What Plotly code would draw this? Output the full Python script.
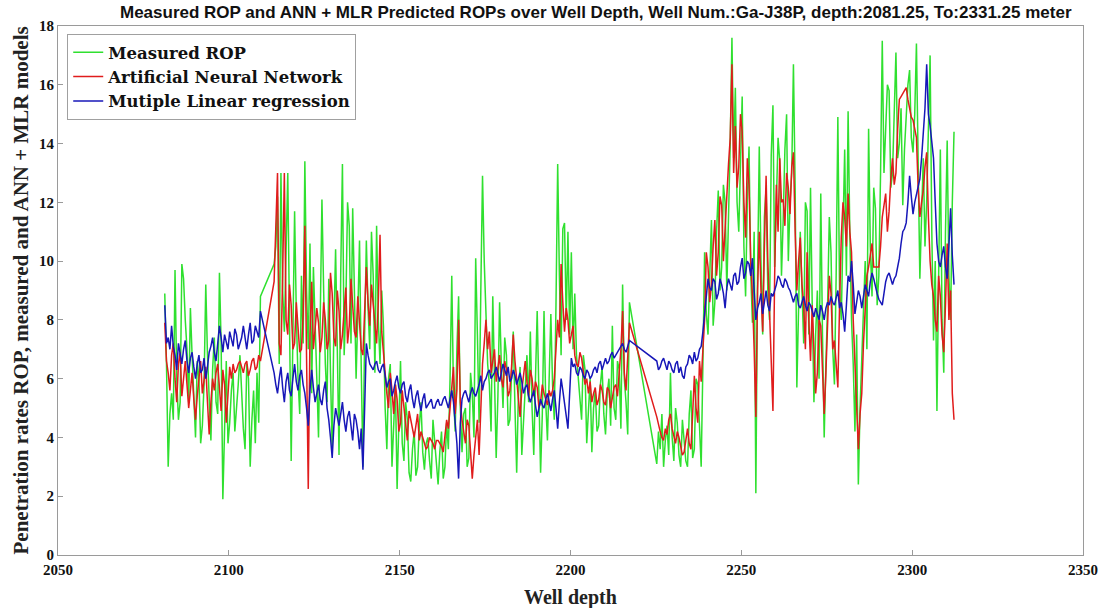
import numpy as np
import plotly.graph_objects as go

# Depth sampling: three continuous logged intervals (0.5 m steps), with gaps in between
DEPTH_SEGMENTS = [(2081.25, 2109.25), (2113.25, 2217.25), (2225.25, 2312.25)]
STEP = 0.5

# ---- Measured ROP (green) ----
MEASURED_1 = [8.9, 6.5, 3.0, 4.8, 5.5, 4.6, 9.7, 6.0, 4.6, 5.2, 9.9, 9.4, 8.0, 7.0, 5.2, 8.4, 6.8, 5.4, 4.0, 6.6,
              6.0, 3.8, 4.4, 5.8, 9.2, 6.8, 5.0, 3.9, 6.3, 7.4, 5.2, 4.8, 9.6, 7.2, 1.9, 4.6, 6.6, 3.8, 4.5, 5.6,
              6.2, 4.2, 4.9, 5.8, 6.8, 5.2, 4.3, 3.6, 6.5, 6.0, 3.0, 4.6, 5.6, 3.8, 6.2, 4.5, 8.8]
MEASURED_2 = [9.9, 10.5, 12.2, 6.5, 13.0, 9.0, 7.6, 10.2, 13.0, 8.0,
              3.2, 7.5, 11.7, 8.2, 6.0, 4.8, 9.5, 7.2, 13.4, 9.0,
              7.0, 10.6, 5.5, 9.8, 8.2, 6.0, 4.0, 8.5, 12.1, 9.0,
              6.5, 5.2, 9.4, 6.2, 3.6, 7.8, 10.4, 7.0, 3.4, 9.6,
              13.3, 6.8, 8.5, 12.0, 11.2, 7.2, 11.8, 9.0, 6.0, 8.2,
              10.7, 6.4, 3.0, 7.5, 10.7, 8.4, 7.0, 11.0, 9.5, 6.2,
              11.2, 8.0, 6.5, 9.0, 7.8, 5.0, 3.6, 6.0, 6.5, 3.0,
              4.5, 5.8, 2.25, 4.2, 6.6, 3.8, 3.2, 5.2, 4.6, 2.8,
              2.5, 3.6, 4.2, 2.7, 3.0, 4.4, 5.2, 3.5, 2.9, 3.8,
              4.0, 3.2, 2.6, 4.6, 3.8, 2.9, 2.4, 3.5, 4.2, 2.6,
              3.0, 4.5, 3.6, 6.0, 9.5, 5.5, 4.2, 7.0, 8.8, 5.0,
              3.5, 4.8, 5.0, 3.0, 3.3, 6.2, 5.5, 4.0, 10.1, 7.5,
              4.5, 9.0, 12.9, 10.0, 8.0, 6.5, 5.8, 4.2, 8.8, 6.0,
              3.3, 5.4, 8.6, 6.5, 5.0, 7.4, 6.8, 4.4, 4.6, 6.2,
              7.6, 5.0, 2.8, 5.5, 6.4, 3.4, 4.5, 6.0, 6.8, 5.2,
              7.6, 5.0, 3.4, 6.0, 8.3, 5.5, 2.8, 4.8, 8.3, 5.2,
              3.9, 6.0, 8.2, 5.8, 4.6, 8.5, 13.3, 9.5, 6.8, 11.1,
              11.3, 8.0, 11.0, 7.5, 10.3, 7.0, 8.9, 6.8, 6.0, 5.2,
              4.6, 6.8, 6.3, 3.8, 4.8, 6.0, 3.5, 5.0, 5.6, 4.2,
              4.4, 5.8, 6.4, 4.8, 4.1, 5.5, 6.0, 4.4, 7.8, 5.0,
              4.6, 6.6, 6.3, 4.3, 9.2, 6.0, 5.2, 4.1, 8.6]
MEASURED_3 = [3.1, 4.2, 3.6, 4.8, 3.0, 3.9, 4.4, 3.4, 6.2, 4.0,
              3.2, 5.0, 4.5, 3.4, 3.0, 4.6, 4.0, 3.2, 3.0, 4.8,
              5.6, 3.3, 3.6, 6.0, 5.8, 4.4, 3.0, 6.5, 10.3, 8.2,
              7.5, 9.5, 11.4, 7.8, 8.6, 11.0, 12.4, 9.0, 9.8, 12.6,
              12.0, 9.0, 11.5, 14.0, 17.6, 13.5, 15.9, 12.0, 11.0, 13.5,
              15.6, 10.5, 8.8, 12.0, 13.9, 9.6, 7.9, 11.0, 2.1, 9.5,
              13.9, 10.0, 7.5, 11.5, 12.5, 9.0, 8.0, 13.6, 15.3, 9.8,
              11.8, 14.2, 13.4, 9.5, 11.4, 13.8, 15.0, 10.0, 12.0, 13.0,
              16.7, 12.5, 5.7, 8.5, 11.0, 9.0, 7.2, 12.0, 11.7, 7.5,
              12.5, 8.5, 5.2, 7.5, 9.0, 6.0, 12.3, 7.5, 4.0, 6.5,
              8.5, 11.5, 10.3, 7.0, 5.8, 9.5, 14.9, 9.0, 8.0, 11.0,
              13.8, 9.5, 15.1, 11.0, 8.0, 6.5, 4.2, 7.5, 2.4, 5.0,
              6.9, 8.5, 10.0, 7.0, 14.5, 10.5, 8.8, 12.5, 11.8, 8.5,
              9.5, 13.0, 17.5, 13.0, 14.5, 16.0, 15.8, 12.5, 13.0, 15.5,
              17.1, 13.5, 14.0, 15.2, 11.9, 13.8, 14.8, 16.0, 16.5, 14.2,
              13.7, 15.0, 17.4, 12.5, 9.4, 11.5, 13.5, 10.5, 12.0, 14.5,
              17.0, 11.0, 7.3, 10.0, 4.9, 9.5, 13.8, 8.0, 6.2, 11.0,
              14.1, 9.5, 8.0, 12.0, 14.4]

# ---- Artificial Neural Network prediction (red) ----
ANN_1 = [7.9, 6.6, 6.2, 5.6, 6.8, 7.2, 6.0, 5.2, 6.5, 6.9, 5.4, 6.0, 6.6, 5.8, 5.0, 5.6, 6.2, 5.3, 4.6, 5.4,
         6.1, 6.6, 5.5, 6.0, 6.4, 5.2, 4.1, 5.2, 6.0, 5.6, 6.2, 6.5, 5.5, 4.9, 6.3, 5.8, 4.5, 5.7, 6.4, 6.0,
         6.5, 6.2, 6.3, 6.5, 6.6, 6.4, 6.2, 6.5, 6.6, 6.1, 6.3, 6.6, 6.7, 6.3, 6.4, 6.8, 6.6]
ANN_2 = [9.3, 11.0, 13.0, 7.2, 6.8, 9.5, 13.0, 8.0, 7.5, 9.2,
         8.5, 7.0, 7.2, 8.6, 7.8, 6.9, 7.0, 8.2, 11.2, 6.0,
         2.25, 7.5, 9.3, 7.0, 7.6, 8.4, 7.9, 6.9, 7.4, 8.6,
         8.0, 7.0, 7.3, 9.6, 8.9, 7.4, 7.1, 9.0, 8.3, 7.0,
         7.5, 8.4, 9.1, 7.2, 7.8, 9.4, 8.6, 7.6, 7.4, 8.8,
         7.9, 7.0, 6.8, 8.2, 9.8, 8.6, 7.8, 9.2, 8.5, 7.6,
         7.2, 8.6, 10.9, 7.6, 6.8, 6.0, 5.5, 5.0, 6.2, 5.6,
         4.8, 5.8, 5.3, 4.2, 4.5, 5.6, 5.0, 4.3, 3.9, 4.9,
         4.6, 4.2, 4.0, 4.4, 4.8, 3.9, 4.2, 4.0, 3.8, 3.6,
         3.7, 4.0, 3.9, 3.8, 3.6, 3.9, 3.9, 3.8, 3.7, 3.5,
         4.0, 4.6, 4.3, 5.0, 5.5, 6.4, 4.8, 5.6, 8.0, 5.2,
         4.6, 4.2, 3.8, 4.6, 4.4, 3.5, 2.6, 3.4, 4.0, 4.6,
         3.4, 5.2, 6.5, 7.2, 8.0, 7.0, 7.6, 6.2, 6.6, 7.0,
         5.9, 6.4, 6.8, 6.0, 5.7, 6.6, 6.3, 5.4, 5.6, 6.4,
         7.5, 6.6, 6.0, 5.2, 4.7, 5.6, 6.2, 6.6, 5.9, 5.4,
         6.3, 6.0, 5.4, 5.9, 5.7, 5.0, 5.2, 5.8, 5.5, 5.3,
         5.1, 5.6, 5.4, 5.6, 6.0, 7.0, 8.0, 7.4, 9.9, 8.6,
         7.6, 8.4, 8.0, 7.2, 7.5, 7.8, 6.8, 6.5, 6.4, 6.9,
         6.7, 6.2, 5.8, 6.0, 5.5, 5.9, 5.2, 5.5, 5.7, 5.1,
         5.3, 5.8, 5.6, 5.2, 5.1, 5.7, 5.6, 5.0, 5.3, 5.7,
         5.8, 5.4, 6.2, 7.0, 8.3, 6.2, 5.6, 6.6, 7.9]
ANN_3 = [4.7, 4.4, 4.2, 4.0, 3.9, 4.3, 4.1, 4.6, 4.8, 4.3,
         4.0, 3.8, 4.2, 4.0, 3.7, 3.4, 3.5, 3.9, 4.3, 3.8,
         3.6, 4.8, 6.1, 5.0, 4.5, 6.6, 5.9, 7.0, 8.0, 10.3,
         9.8, 8.6, 9.2, 10.5, 11.4, 9.5, 10.3, 12.2, 11.9, 10.0,
         11.2, 12.5, 13.3, 14.2, 16.7, 13.0, 14.6, 12.5, 13.2, 15.0,
         14.4, 12.0, 10.8, 13.5, 12.6, 10.0, 8.8, 7.0, 4.7, 9.0,
         11.0, 9.0, 7.6, 10.5, 12.9, 10.0, 8.4, 6.5, 4.9, 9.5,
         12.6, 11.0, 13.5, 12.0, 12.1, 11.2, 13.0, 12.5, 11.6, 13.2,
         13.7, 11.0, 9.0, 10.0, 10.8, 9.2, 8.5, 7.0, 10.3, 8.0,
         6.6, 8.5, 7.2, 5.5, 6.2, 8.0, 7.8, 6.0, 4.8, 6.2,
         7.6, 9.5, 8.9, 7.0, 7.3, 6.5, 5.7, 8.5, 10.8, 12.0,
         11.5, 10.5, 12.3, 11.0, 10.3, 8.0, 6.5, 5.0, 3.6, 4.8,
         5.5, 7.2, 8.6, 9.5, 9.8, 10.2, 10.6, 9.8, 9.8, 9.8,
         9.8, 10.5, 11.5, 11.9, 12.3, 11.0, 11.7, 12.8, 13.5, 12.6,
         13.0, 14.5, 15.5, 15.6, 15.7, 15.8, 15.9, 15.5, 15.2, 14.9,
         14.8, 14.5, 14.2, 12.5, 11.5, 12.0, 12.4, 13.2, 13.7, 11.5,
         10.0, 9.2, 8.8, 8.0, 7.6, 9.5, 8.8, 7.5, 6.9, 8.5,
         10.6, 8.0, 9.0, 5.5, 4.6]

# ---- Multiple Linear Regression prediction (blue) ----
MLR_1 = [8.5, 7.2, 7.4, 7.0, 7.8, 7.1, 6.8, 6.3, 7.2, 6.9, 6.5, 7.0, 7.3, 6.6, 6.2, 6.7, 6.9, 6.4, 6.0, 6.5,
         6.8, 6.2, 6.3, 6.7, 6.0, 6.4, 6.9, 7.1, 7.4, 6.9, 6.6, 7.2, 7.8, 7.4, 6.9, 7.5, 7.2, 7.0, 7.6, 7.3,
         7.1, 7.7, 7.5, 7.0, 7.2, 7.4, 7.8, 7.3, 7.0, 7.5, 7.9, 7.2, 7.3, 7.8, 7.6, 7.4, 8.3]
MLR_2 = [6.2, 5.8, 5.5, 6.0, 6.4, 5.7, 5.2, 5.9, 6.2, 5.6,
         5.4, 6.0, 6.5, 5.9, 5.6, 6.1, 6.3, 5.8, 5.5, 5.0,
         4.4, 5.6, 6.3, 5.7, 5.2, 5.5, 5.8, 5.3, 5.1, 5.6,
         5.9, 5.0, 4.6, 4.0, 3.3, 4.4, 5.0, 4.7, 4.4, 4.8,
         5.2, 4.6, 4.2, 4.7, 4.9, 4.4, 3.9, 4.8, 4.6, 4.2,
         3.6, 4.3, 2.9, 5.0, 7.2, 6.8, 6.5, 6.4, 6.3, 6.5,
         6.6, 6.3, 6.2, 6.4, 6.5, 6.1, 5.7, 5.9, 6.0, 5.4,
         5.6, 5.9, 6.1, 5.7, 5.5, 5.8, 5.9, 5.4, 5.2, 5.6,
         5.8, 5.3, 5.0, 5.4, 5.6, 5.2, 4.9, 5.3, 5.5, 5.0,
         5.1, 5.2, 5.3, 5.0, 5.0, 5.2, 5.3, 5.1, 5.1, 5.3,
         5.4, 5.2, 5.0, 5.3, 5.6, 5.2, 4.6, 3.8, 2.6, 4.5,
         5.3, 5.5, 5.6, 5.4, 5.2, 5.5, 5.7, 5.5, 5.4, 5.6,
         5.8, 6.1, 5.6, 5.9, 6.0, 6.2, 6.3, 6.0, 6.1, 6.2,
         6.4, 6.1, 5.9, 6.2, 6.5, 6.3, 6.1, 6.4, 5.9, 6.0,
         6.3, 6.1, 5.8, 6.0, 6.2, 5.9, 5.5, 5.7, 5.8, 5.4,
         5.2, 5.4, 5.6, 5.1, 4.7, 5.0, 5.3, 5.1, 5.0, 5.3,
         5.5, 5.2, 4.9, 5.3, 5.6, 5.0, 4.3, 5.2, 6.0, 5.6,
         5.1, 4.8, 4.3, 5.5, 6.7, 6.4, 6.5, 6.2, 6.1, 6.4,
         6.3, 6.1, 6.0, 6.3, 6.2, 6.0, 6.1, 6.3, 6.4, 6.2,
         6.5, 6.6, 6.3, 6.5, 6.7, 6.5, 6.6, 6.8, 6.9, 6.7,
         6.8, 6.9, 7.0, 7.1, 7.2, 7.0, 6.9, 7.1, 7.3]
MLR_3 = [6.6, 6.3, 6.4, 6.6, 6.7, 6.5, 6.3, 6.6, 6.5, 6.3,
         6.2, 6.5, 6.6, 6.2, 6.4, 6.1, 6.0, 6.4, 6.5, 6.8,
         6.7, 6.5, 6.9, 6.6, 6.7, 7.0, 7.1, 7.6, 8.2, 8.8,
         9.4, 9.1, 9.0, 9.4, 9.3, 8.7, 8.9, 9.4, 9.2, 8.9,
         8.4, 9.1, 9.4, 9.2, 9.0, 9.5, 9.6, 9.2, 9.3, 9.8,
         10.1, 9.4, 9.6, 10.0, 9.9, 9.5, 10.1, 9.0, 8.0, 8.4,
         8.6, 8.9, 8.2, 8.6, 9.0, 8.5, 8.3, 8.9, 8.8, 9.0,
         9.2, 9.5, 9.4, 9.2, 9.1, 9.4, 9.3, 9.1, 9.0, 8.8,
         8.6, 8.8, 8.9, 8.5, 8.4, 8.6, 8.8, 8.5, 8.3, 8.6,
         8.5, 8.3, 8.1, 8.4, 8.2, 8.0, 8.5, 8.3, 8.0, 8.4,
         8.6, 8.5, 8.8, 8.6, 8.5, 8.8, 9.0, 8.4, 8.6, 8.2,
         7.6, 8.5, 9.5, 9.3, 10.0, 9.2, 8.2, 8.6, 9.0, 8.8,
         8.4, 8.8, 9.2, 9.0, 8.8, 9.3, 9.6, 9.4, 9.1, 8.9,
         8.7, 8.6, 8.5, 8.9, 9.3, 9.5, 9.6, 9.4, 9.2, 9.4,
         9.5, 9.8, 10.1, 10.6, 11.0, 11.1, 11.3, 12.0, 12.9, 12.2,
         11.6, 12.0, 12.3, 12.5, 12.8, 13.5, 14.2, 15.2, 16.7, 15.0,
         14.6, 14.0, 13.5, 12.0, 10.6, 10.0, 9.8, 10.2, 10.5, 9.8,
         9.4, 10.5, 11.8, 10.2, 9.2]

X_TICKS = [2050, 2100, 2150, 2200, 2250, 2300, 2350]
Y_TICKS = [0, 2, 4, 6, 8, 10, 12, 14, 16, 18]

depth = np.concatenate([np.arange(a, b + STEP / 2, STEP) for a, b in DEPTH_SEGMENTS])
measured = MEASURED_1 + MEASURED_2 + MEASURED_3
ann = ANN_1 + ANN_2 + ANN_3
mlr = MLR_1 + MLR_2 + MLR_3
n = min(len(depth), len(measured), len(ann), len(mlr))

SERIF = "Liberation Serif, DejaVu Serif, serif"
LEGEND_SERIF = "DejaVu Serif, Liberation Serif, serif"
SANS = "Liberation Sans, Arial, sans-serif"

fig = go.Figure()
fig.add_trace(go.Scatter(x=depth[:n], y=measured[:n], mode="lines", name="Measured ROP",
                         line=dict(color="#2fe02f", width=1.5)))
fig.add_trace(go.Scatter(x=depth[:n], y=ann[:n], mode="lines", name="Artificial Neural Network",
                         line=dict(color="#e01c1c", width=1.5)))
fig.add_trace(go.Scatter(x=depth[:n], y=mlr[:n], mode="lines", name="Mutiple Linear regression",
                         line=dict(color="#1717b8", width=1.5)))

axis_common = dict(showgrid=False, zeroline=False, showline=True, mirror=True,
                   linecolor="#9a9a9a", linewidth=1, ticks="inside", ticklen=5,
                   tickcolor="#9a9a9a",
                   tickfont=dict(family=SERIF, size=15, color="#111111", weight="bold"))

fig.update_layout(
    width=1110, height=608,
    margin=dict(l=58, r=20, t=26, b=53),
    paper_bgcolor="white", plot_bgcolor="white",
    showlegend=True,
    legend=dict(x=0.009, y=0.985, xanchor="left", yanchor="top",
                bgcolor="white", bordercolor="#a0a0a0", borderwidth=1,
                font=dict(family=LEGEND_SERIF, size=16.5, color="#111111", weight="bold"),
                tracegroupgap=0, itemwidth=30),
    xaxis=dict(range=[2050, 2350], tickvals=X_TICKS, ticklabelstandoff=1, **axis_common),
    yaxis=dict(range=[0, 18], tickvals=Y_TICKS, **axis_common),
    annotations=[
        dict(text="<b>Measured ROP and ANN + MLR Predicted ROPs over Well Depth, Well Num.:Ga-J38P, depth:2081.25, To:2331.25 meter</b>",
             xref="paper", yref="paper", x=0.525, y=1.0, xanchor="center", yanchor="bottom", yshift=2,
             showarrow=False, font=dict(family=SANS, size=17, color="#111111")),
        dict(text="<b>Well depth</b>", xref="paper", yref="paper", x=0.5, y=0, yshift=-29,
             xanchor="center", yanchor="top", showarrow=False,
             font=dict(family=SERIF, size=20, color="#222222")),
        dict(text="<b>Penetration rates ROP, measured and ANN + MLR models</b>", xref="paper", yref="paper",
             x=0, xshift=-38, y=0.5, xanchor="center", yanchor="middle", textangle=-90, showarrow=False,
             font=dict(family=SERIF, size=21, color="#222222")),
    ],
)

fig.write_html("out.html")
